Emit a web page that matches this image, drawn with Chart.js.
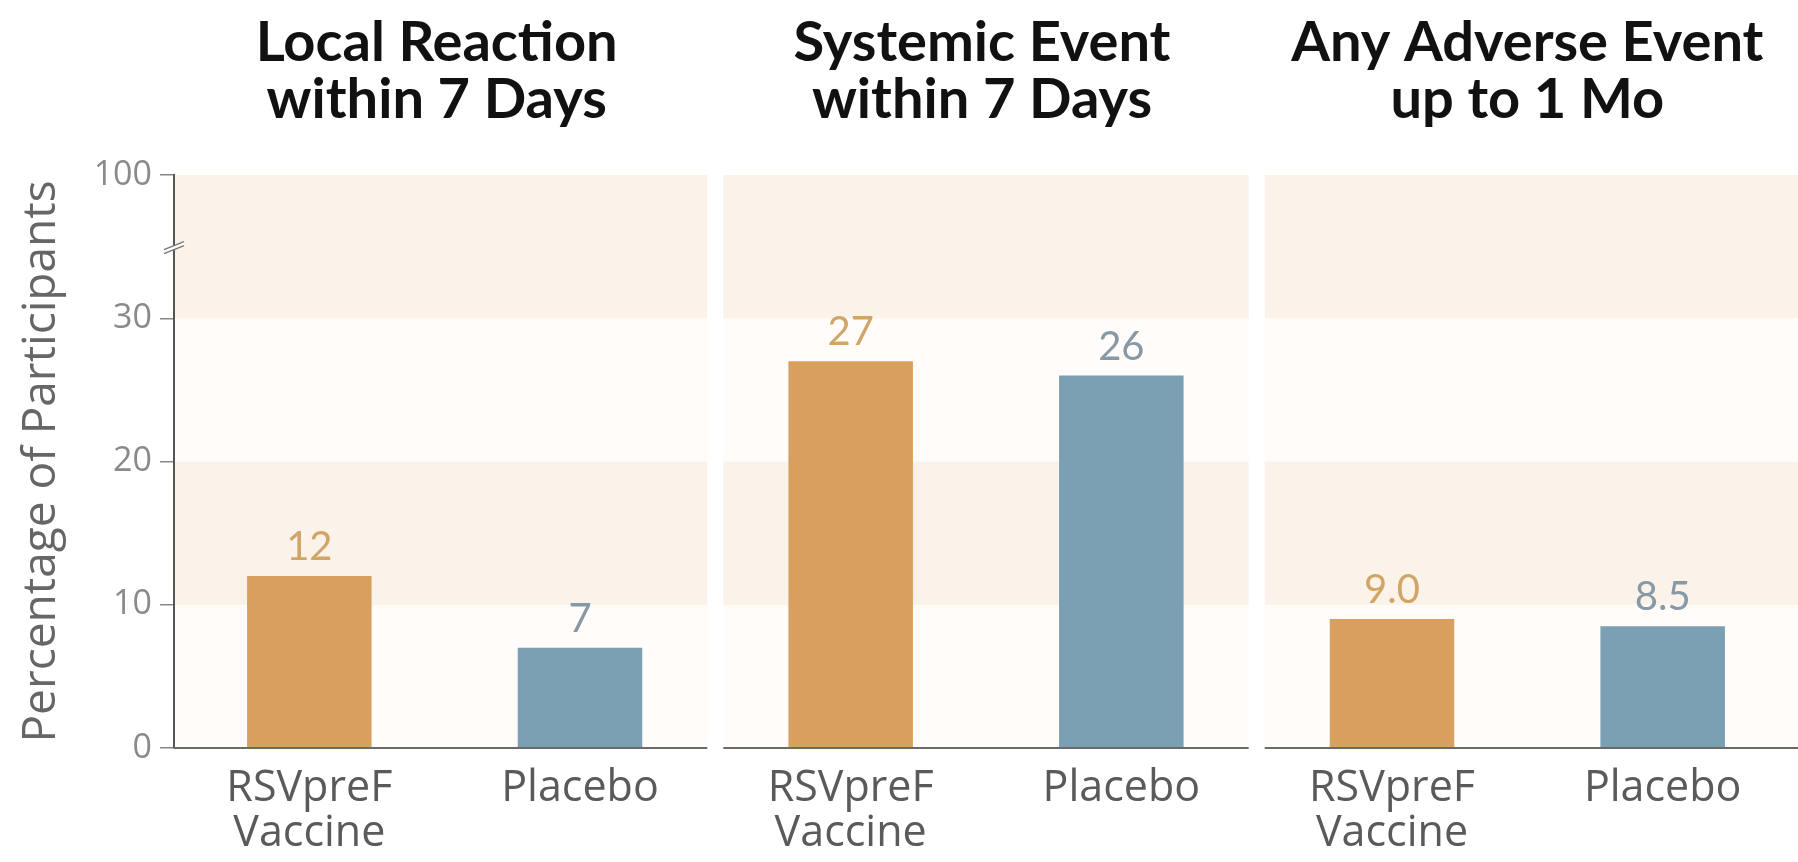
<!DOCTYPE html>
<html>
<head>
<meta charset="utf-8">
<script src="https://cdn.jsdelivr.net/npm/chart.js@4.4.1/dist/chart.umd.min.js"></script>
<style>
  html, body { margin: 0; padding: 0; background: #fff; }
  #wrap { width: 1798px; height: 862px; position: relative; }
</style>
</head>
<body>
<div id="wrap"><canvas id="chart"></canvas></div>
<script>
// bars, two per panel: vaccine then placebo
const categories = [['RSVpreF', 'Vaccine'], 'Placebo', ['RSVpreF', 'Vaccine'], 'Placebo', ['RSVpreF', 'Vaccine'], 'Placebo'];
const percentages = [12, 7, 27, 26, 9.0, 8.5];
const valueDecimals = [0, 0, 0, 0, 1, 1];
const panelTitles = [
  ['Local Reaction', 'within 7 Days'],
  ['Systemic Event', 'within 7 Days'],
  ['Any Adverse Event', 'up to 1 Mo']
];
// broken axis: the top tick stands for 100
const yTickValues = [0, 10, 20, 30, 40];
const yTickLabels = ['0', '10', '20', '30', '100'];
const yBreakAt = 35;

const VACCINE = '#d99f5f';
const PLACEBO = '#7b9fb3';
const VACCINE_TEXT = '#d0a566';
const PLACEBO_TEXT = '#8799a6';
const BAND_LIGHT = '#fffcf9';
const BAND_DARK = '#fbf2e9';
const HEAD_FONT = 'Lato';
const FONT = 'Open Sans';

function panelExtents(chart) {
  const x = chart.scales.x, area = chart.chartArea;
  const edges = [area.left];
  for (let i = 2; i < categories.length; i += 2) {
    edges.push((x.getPixelForValue(i - 1) + x.getPixelForValue(i)) / 2);
  }
  edges.push(area.right);
  const gap = 8;
  return panelTitles.map((_, p) => ({
    left: edges[p] + (p ? gap : 0),
    right: edges[p + 1] - (p < panelTitles.length - 1 ? gap : 0)
  }));
}

const panelBackground = {
  id: 'panelBackground',
  beforeDraw(chart) {
    const ctx = chart.ctx, y = chart.scales.y;
    ctx.save();
    panelExtents(chart).forEach(p => {
      for (let b = 0; b < yTickValues.length - 1; b++) {
        const top = y.getPixelForValue(yTickValues[b + 1]);
        const bottom = y.getPixelForValue(yTickValues[b]);
        ctx.fillStyle = b % 2 ? BAND_DARK : BAND_LIGHT;
        ctx.fillRect(p.left, top, p.right - p.left, bottom - top);
      }
    });
    ctx.restore();
  }
};

const panelDecor = {
  id: 'panelDecor',
  afterDatasetsDraw(chart) {
    const ctx = chart.ctx, area = chart.chartArea;
    const panels = panelExtents(chart);
    ctx.save();

    // baseline, broken between panels
    ctx.strokeStyle = '#6a6a6a';
    ctx.lineWidth = 2;
    panels.forEach(p => {
      ctx.beginPath();
      ctx.moveTo(p.left, area.bottom);
      ctx.lineTo(p.right, area.bottom);
      ctx.stroke();
    });

    // value above each bar
    const meta = chart.getDatasetMeta(0);
    ctx.font = '40px ' + HEAD_FONT;
    ctx.textAlign = 'center';
    ctx.textBaseline = 'alphabetic';
    meta.data.forEach((bar, i) => {
      ctx.fillStyle = i % 2 ? PLACEBO_TEXT : VACCINE_TEXT;
      ctx.fillText(percentages[i].toFixed(valueDecimals[i]), bar.x, bar.y - 16);
    });

    // panel headings
    ctx.fillStyle = '#111';
    ctx.font = 'bold 56px ' + HEAD_FONT;
    panels.forEach((p, i) => {
      const cx = (p.left + p.right) / 2 - 4;
      ctx.fillText(panelTitles[i][0], cx, 61);
      ctx.fillText(panelTitles[i][1], cx, 118);
    });

    // axis break marks
    const ax = area.left, by = chart.scales.y.getPixelForValue(yBreakAt);
    ctx.fillStyle = '#fff';
    ctx.beginPath();
    ctx.moveTo(ax - 10, by + 3);
    ctx.lineTo(ax + 10, by - 5);
    ctx.lineTo(ax + 10, by - 1);
    ctx.lineTo(ax - 10, by + 7);
    ctx.closePath();
    ctx.fill();
    ctx.strokeStyle = '#777';
    ctx.lineWidth = 1.5;
    ctx.beginPath();
    ctx.moveTo(ax - 10, by + 3);
    ctx.lineTo(ax + 10, by - 5);
    ctx.moveTo(ax - 10, by + 7);
    ctx.lineTo(ax + 10, by - 1);
    ctx.stroke();
    ctx.restore();
  }
};

new Chart(document.getElementById('chart'), {
  type: 'bar',
  data: {
    labels: categories,
    datasets: [{
      data: percentages,
      backgroundColor: categories.map((_, i) => i % 2 ? PLACEBO : VACCINE),
      borderWidth: 0,
      barPercentage: 0.46,
      categoryPercentage: 1
    }]
  },
  options: {
    responsive: true,
    maintainAspectRatio: false,
    animation: false,
    layout: { padding: { top: 175, left: 0, right: 0, bottom: 0 } },
    plugins: {
      legend: { display: false },
      tooltip: { enabled: false }
    },
    scales: {
      x: {
        afterFit: s => { s.height = 114; },
        grid: { display: false, drawTicks: false },
        border: { display: false },
        ticks: {
          color: '#5a5a5a',
          font: { family: FONT, size: 43, lineHeight: 1.05 },
          padding: 18,
          maxRotation: 0,
          autoSkip: false
        }
      },
      y: {
        min: 0,
        max: 40,
        afterFit: s => { s.width = 174; },
        afterBuildTicks: s => { s.ticks = yTickValues.map(v => ({ value: v })); },
        ticks: {
          color: '#8a8a8a',
          font: { family: FONT, size: 34 },
          padding: 8,
          callback: v => yTickLabels[yTickValues.indexOf(v)]
        },
        grid: { drawOnChartArea: false, tickLength: 14, color: '#888', lineWidth: 1.5 },
        border: { color: '#555', width: 2 },
        title: {
          display: true,
          text: 'Percentage of Participants',
          color: '#666',
          font: { family: FONT, size: 46 },
          padding: { top: 14, bottom: 0 }
        }
      }
    }
  },
  plugins: [panelBackground, panelDecor]
});
</script>
</body>
</html>
